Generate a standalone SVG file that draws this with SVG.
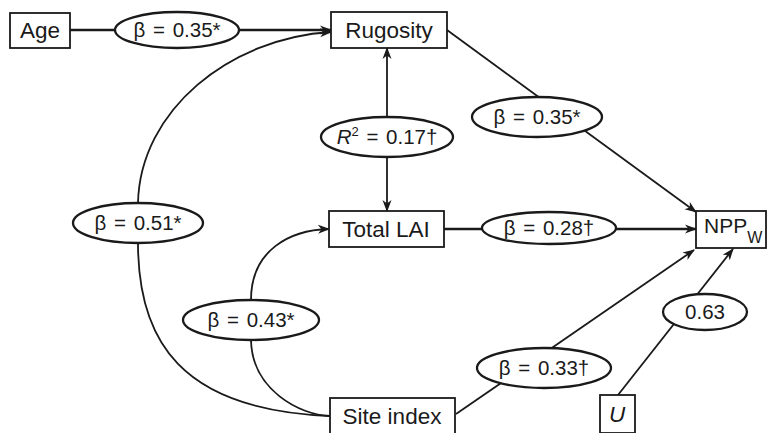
<svg xmlns="http://www.w3.org/2000/svg" width="768" height="433" viewBox="0 0 768 433">
<defs>
<marker id="arr" viewBox="0 0 12 10" refX="11" refY="5" markerWidth="12" markerHeight="10" markerUnits="userSpaceOnUse" orient="auto">
<path d="M0,0.5 L12,5 L0,9.5 L3.5,5 z" fill="#1a1a1a"/>
</marker>
</defs>
<style>
.box{fill:#fff;stroke:#1a1a1a;stroke-width:1.8}
.ell{fill:#fff;stroke:#1a1a1a;stroke-width:2.3}
.ln{fill:none;stroke:#1a1a1a;stroke-width:1.8}
.bt{font-family:"Liberation Sans",Arial,sans-serif;font-size:22.5px;fill:#1a1a1a;text-anchor:middle}
.lt{font-family:"Liberation Sans",Arial,sans-serif;font-size:20.5px;word-spacing:2px;fill:#1a1a1a;text-anchor:middle}
</style>
<rect width="768" height="433" fill="#fff"/>
<g id="connectors">
<line class="ln" x1="70" y1="30" x2="116" y2="30" style="stroke-width:2.4"/>
<line class="ln" x1="238" y1="30" x2="331" y2="30" style="stroke-width:2.4" marker-end="url(#arr)"/>
<path class="ln" d="M138,203 C140,110 230,38 331,32" marker-end="url(#arr)"/>
<path class="ln" d="M138,243 C138,340 180,410 330,416"/>
<path class="ln" d="M251,300 C251,250 290,230 329,229" marker-end="url(#arr)"/>
<path class="ln" d="M251,340 C252,390 300,415 330,416"/>
<line class="ln" x1="387" y1="118" x2="387" y2="48" marker-end="url(#arr)"/>
<line class="ln" x1="387" y1="157" x2="387" y2="211" marker-end="url(#arr)"/>
<line class="ln" x1="447" y1="30" x2="696" y2="212" marker-end="url(#arr)"/>
<line class="ln" x1="444" y1="229" x2="696" y2="229" style="stroke-width:2.6" marker-end="url(#arr)"/>
<line class="ln" x1="456" y1="414" x2="694" y2="250" marker-end="url(#arr)"/>
<line class="ln" x1="618" y1="395" x2="733" y2="249" marker-end="url(#arr)"/>
</g>
<g id="age"><rect class="box" x="10" y="13" width="60" height="35"/><text class="bt" x="40" y="38">Age</text></g>
<g id="rugosity"><rect class="box" x="331" y="12" width="116" height="36"/><text class="bt" x="389" y="38">Rugosity</text></g>
<g id="totallai"><rect class="box" x="329" y="211" width="115" height="36"/><text class="bt" x="386" y="237">Total LAI</text></g>
<g id="npp"><rect class="box" x="696" y="211" width="70" height="37"/><text class="bt" x="704" y="233" style="text-anchor:start;font-size:21px">NPP<tspan dy="10" style="font-size:16px">W</tspan></text></g>
<g id="siteindex"><rect class="box" x="330" y="398" width="125" height="36"/><text class="bt" x="392" y="424">Site index</text></g>
<g id="u"><rect class="box" x="600" y="395" width="35" height="38"/><text class="bt" x="617" y="422" style="font-style:italic">U</text></g>
<g id="e-age"><ellipse class="ell" cx="177" cy="30" rx="62" ry="18"/><text class="lt" x="177" y="37">β = 0.35*</text></g>
<g id="e-rug"><ellipse class="ell" cx="537" cy="117" rx="65" ry="20"/><text class="lt" x="537" y="124">β = 0.35*</text></g>
<g id="e-r2"><ellipse class="ell" cx="387" cy="137" rx="66" ry="20"/><text class="lt" x="387" y="144"><tspan style="font-style:italic">R</tspan><tspan dy="-8" style="font-size:13px">2</tspan><tspan dy="8"> = 0.17†</tspan></text></g>
<g id="e-lai"><ellipse class="ell" cx="549" cy="228" rx="67" ry="16"/><text class="lt" x="549" y="235">β = 0.28†</text></g>
<g id="e-51"><ellipse class="ell" cx="138" cy="223" rx="65" ry="20"/><text class="lt" x="138" y="230">β = 0.51*</text></g>
<g id="e-43"><ellipse class="ell" cx="251" cy="320" rx="68" ry="20"/><text class="lt" x="251" y="327">β = 0.43*</text></g>
<g id="e-33"><ellipse class="ell" cx="544" cy="368" rx="67" ry="20"/><text class="lt" x="544" y="375">β = 0.33†</text></g>
<g id="e-63"><ellipse class="ell" cx="705" cy="312" rx="42" ry="18"/><text class="lt" x="705" y="319">0.63</text></g>
</svg>
